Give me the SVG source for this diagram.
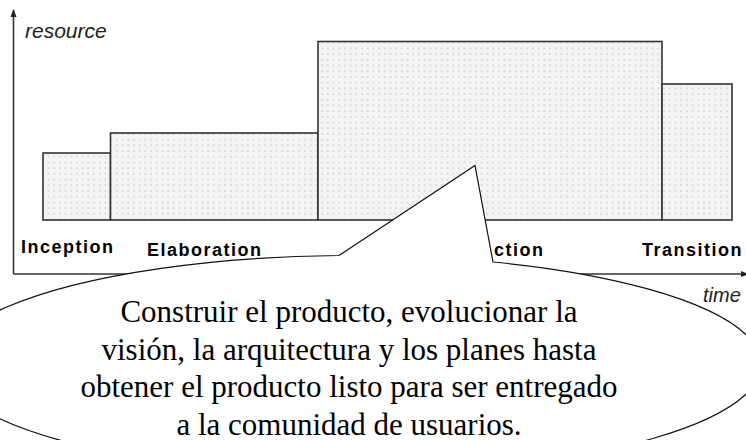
<svg xmlns="http://www.w3.org/2000/svg" width="746" height="440" viewBox="0 0 746 440">
  <defs>
    <pattern id="dots" width="5.7" height="5.7" patternUnits="userSpaceOnUse">
      <rect width="5.7" height="5.7" fill="#f4f4f4"/>
      <rect x="2.3" y="2.3" width="1.1" height="1.1" fill="#a8a8a8"/>
    </pattern>
    <marker id="arrow" viewBox="0 0 8 8" refX="7" refY="4" markerWidth="8" markerHeight="8" markerUnits="userSpaceOnUse" orient="auto">
      <path d="M0,1 L8,4 L0,7 Z" fill="#222"/>
    </marker>
  </defs>
  <style>
    .bar { fill: url(#dots); stroke: #333; stroke-width: 1.6; }
    .axis { fill: none; stroke: #333; stroke-width: 1.6; }
    .phase { font-family: "Liberation Sans", Arial, sans-serif; font-weight: bold; font-size: 18px; letter-spacing: 1.5px; fill: #000; }
    .axlabel { font-family: "Liberation Sans", Arial, sans-serif; font-style: italic; fill: #222; }
    .callout { fill: #fff; stroke: #111; stroke-width: 1.2; }
    .ctext { font-family: "Liberation Serif", "Times New Roman", serif; font-size: 31px; fill: #000; text-anchor: middle; }
  </style>
  <rect width="746" height="440" fill="#fff"/>

  <g id="connectors">
    <line class="axis" x1="13.5" y1="274" x2="13.5" y2="10" marker-end="url(#arrow)"/>
    <line class="axis" x1="13.5" y1="274" x2="748" y2="274" marker-end="url(#arrow)"/>
  </g>

  <text class="axlabel" x="25" y="38" font-size="21">resource</text>
  <text class="axlabel" x="703" y="302" font-size="20">time</text>

  <g id="inception">
    <rect class="bar" x="43" y="153" width="67.5" height="67"/>
    <text class="phase" x="21" y="253">Inception</text>
  </g>
  <g id="elaboration">
    <rect class="bar" x="110.5" y="133" width="207.5" height="87"/>
    <text class="phase" x="147" y="256">Elaboration</text>
  </g>
  <g id="construction">
    <rect class="bar" x="318" y="41.5" width="344" height="178.5"/>
    <text class="phase" x="494" y="256">ction</text>
  </g>
  <g id="transition">
    <rect class="bar" x="662" y="84" width="70" height="136"/>
    <text class="phase" x="642" y="256">Transition</text>
  </g>

  <g id="callout">
    <path class="callout" d="M 493 262 A 408 109 0 1 1 339 255.5 L 475 165.5 Z"/>
    <text class="ctext" x="349" y="322">Construir el producto, evolucionar la</text>
    <text class="ctext" x="349" y="359.5">visión, la arquitectura y los planes hasta</text>
    <text class="ctext" x="349" y="397">obtener el producto listo para ser entregado</text>
    <text class="ctext" x="349" y="434.5">a la comunidad de usuarios.</text>
  </g>
</svg>
